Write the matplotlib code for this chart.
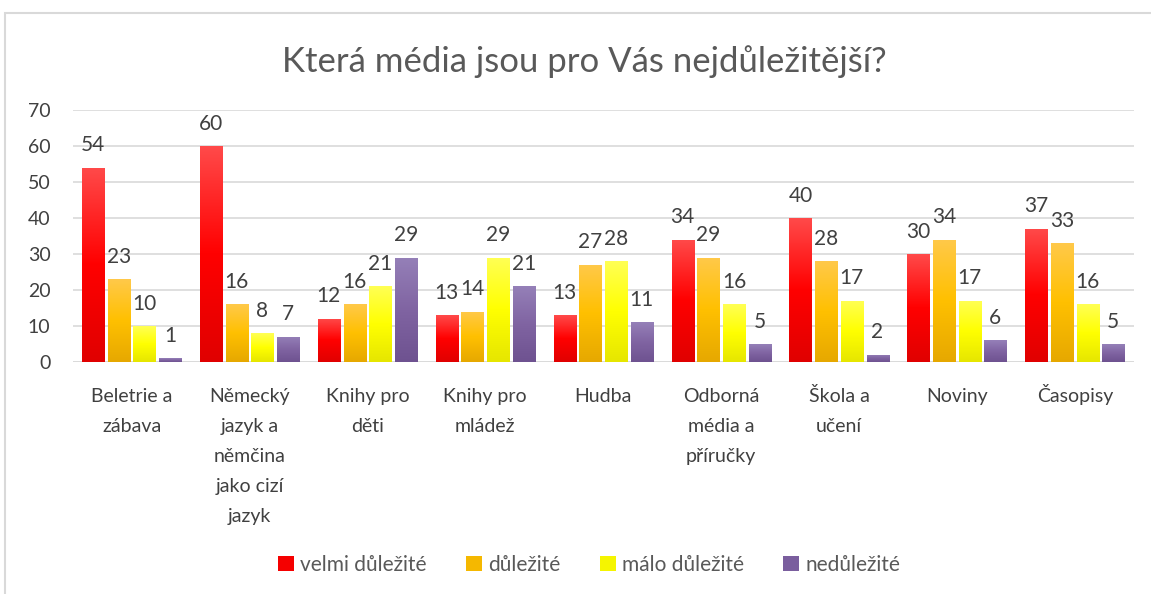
import numpy as np
import matplotlib
matplotlib.use("Agg")
import matplotlib.pyplot as plt
import matplotlib.transforms as mtransforms
from matplotlib.colors import LinearSegmentedColormap
from matplotlib.patches import Rectangle, Patch

plt.rcParams['font.family'] = ['Lato', 'DejaVu Sans']

categories = ["Beletrie a\nzábava", "Německý\njazyk a\nněmčina\njako cizí\njazyk",
              "Knihy pro\nděti", "Knihy pro\nmládež", "Hudba",
              "Odborná\nmédia a\npříručky", "Škola a\nučení", "Noviny", "Časopisy"]
series_names = ["velmi důležité", "důležité", "málo důležité", "nedůležité"]
velmi = [54, 60, 12, 13, 13, 34, 40, 30, 37]
dulezite = [23, 16, 16, 14, 27, 29, 28, 34, 33]
malo = [10, 8, 21, 29, 28, 16, 17, 17, 16]
nedulezite = [1, 7, 29, 21, 11, 5, 2, 6, 5]
title = "Která média jsou pro Vás nejdůležitější?"

series = [velmi, dulezite, malo, nedulezite]
grads = [("#ff4a4a", "#ff0000", "#e00000"),
         ("#ffc94a", "#ffc000", "#e6a800"),
         ("#ffff55", "#ffff00", "#e6e600"),
         ("#9580b8", "#8064a2", "#6e5290")]
legend_cols = ["#f50000", "#f5b800", "#f5f500", "#7a5e9e"]

fig = plt.figure(figsize=(11.51, 5.94), dpi=100)
ax = fig.add_axes([0.0631, 1 - 362 / 594, 0.9219, 252 / 594])

x = np.arange(len(categories))
step = 0.218
width = 0.187
offsets = (np.arange(4) - 1.5) * step

for i, (vals, g) in enumerate(zip(series, grads)):
    bars = ax.bar(x + offsets[i], vals, width, color=g[1], zorder=3)
    cmap = LinearSegmentedColormap.from_list(f"g{i}", [g[2], g[1], g[0]])
    grad = np.linspace(0, 1, 256).reshape(-1, 1)
    for b in bars:
        bx, by = b.get_x(), b.get_y()
        bw, bh = b.get_width(), b.get_height()
        im = ax.imshow(grad, extent=[bx, bx + bw, by, by + bh], origin='lower',
                       aspect='auto', cmap=cmap, zorder=4)
        im.set_clip_path(b)
    ax.bar_label(bars, labels=[str(v) for v in vals], padding=9, fontsize=15,
                 color="#404040", zorder=5)

ax.set_xlim(-0.5, len(categories) - 0.5)
ax.set_ylim(0, 70)
ax.set_yticks(range(0, 71, 10))
ax.set_xticks(x)
ax.set_xticklabels([])
ax.tick_params(axis='y', labelsize=14, labelcolor="#404040", length=0, pad=16)
ax.tick_params(axis='x', length=0)
ax.grid(axis='y', color="#d9d9d9", linewidth=1.2, zorder=0)
for s in ax.spines.values():
    s.set_visible(False)
ax.axhline(0, color="#d9d9d9", linewidth=1.2, zorder=2)

# category labels, each line on a common baseline grid
base = ax.get_xaxis_transform()
for xi, cat in zip(x, categories):
    for k, line in enumerate(cat.split("\n")):
        off = mtransforms.ScaledTranslation(0, -(40 + 30 * k) / 100, fig.dpi_scale_trans)
        ax.text(xi, 0, line, transform=base + off, ha='center', va='baseline',
                fontsize=14, color="#404040", clip_on=False)

fig.text(0.508, 1 - 62 / 594, title, ha='center', va='center', fontsize=25,
         color="#595959")

handles = [Patch(facecolor=c, edgecolor='none') for c in legend_cols]
fig.legend(handles, series_names, loc='center', bbox_to_anchor=(0.512, 1 - 565 / 594),
           ncol=4, frameon=False, fontsize=15, labelcolor="#595959",
           handlelength=0.75, handleheight=0.75, handletextpad=0.3, columnspacing=1.9)

fig.patches.append(Rectangle((5 / 1151, -0.1), 1.2, 1 - 13 / 594 + 0.1,
                             transform=fig.transFigure, fill=False,
                             edgecolor="#d9d9d9", linewidth=1.5))

fig.savefig("out.png", dpi=100)
